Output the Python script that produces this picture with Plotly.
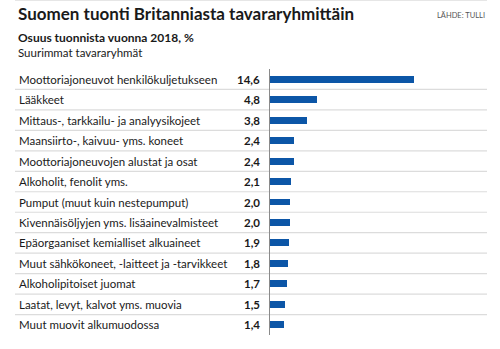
import plotly.graph_objects as go

# Suomen tuonti Britanniasta, osuus tuonnista 2018 (%)
categories = [
    "Moottoriajoneuvot henkilökuljetukseen",
    "Lääkkeet",
    "Mittaus-, tarkkailu- ja analyysikojeet",
    "Maansiirto-, kaivuu- yms. koneet",
    "Moottoriajoneuvojen alustat ja osat",
    "Alkoholit, fenolit yms.",
    "Pumput (muut kuin nestepumput)",
    "Kivennäisöljyjen yms. lisäainevalmisteet",
    "Epäorgaaniset kemialliset alkuaineet",
    "Muut sähkökoneet, -laitteet ja -tarvikkeet",
    "Alkoholipitoiset juomat",
    "Laatat, levyt, kalvot yms. muovia",
    "Muut muovit alkumuodossa",
]
values = [14.6, 4.8, 3.8, 2.4, 2.4, 2.1, 2.0, 2.0, 1.9, 1.8, 1.7, 1.5, 1.4]

title_text = "Suomen tuonti Britanniasta tavararyhmittäin"
source_text = "LÄHDE: TULLI"
subtitle_bold = "Osuus tuonnista vuonna 2018, %"
subtitle_text = "Suurimmat tavararyhmät"

W, H = 500, 349
ML, MR, MT, MB = 270, 13, 69, 14
PW, PH = W - ML - MR, H - MT - MB

FONT = "Lato"
TEXT = "#1a1a1a"
BAR = "#0c56a7"


def px_x(px):
    return (px - ML) / PW


def px_y(py):
    return 1 - (py - MT) / PH


fig = go.Figure(
    go.Bar(
        x=values,
        y=categories,
        orientation="h",
        marker=dict(color=BAR, line=dict(width=0)),
        width=0.34,
        hoverinfo="skip",
    )
)

annotations = []
for i, (c, v) in enumerate(zip(categories, values)):
    annotations.append(dict(
        x=px_x(17), xref="paper", y=c, yref="y", text=c,
        xanchor="left", yanchor="middle", showarrow=False,
        font=dict(family=FONT, size=11.5, color=TEXT),
    ))
    annotations.append(dict(
        x=px_x(262), xref="paper", y=c, yref="y",
        text="<b>" + f"{v:.1f}".replace(".", ",") + "</b>",
        xanchor="right", yanchor="middle", showarrow=False,
        font=dict(family=FONT, size=11.5, color=TEXT),
    ))

annotations += [
    dict(x=px_x(16), xref="paper", y=px_y(14), yref="paper",
         text="<b>" + title_text + "</b>", xanchor="left", yanchor="middle",
         showarrow=False, font=dict(family=FONT, size=17, color=TEXT)),
    dict(x=px_x(487), xref="paper", y=px_y(15), yref="paper",
         text=source_text, xanchor="right", yanchor="middle",
         showarrow=False, font=dict(family=FONT, size=7.5, color="#555")),
    dict(x=px_x(16), xref="paper", y=px_y(38), yref="paper",
         text="<b>" + subtitle_bold + "</b>", xanchor="left", yanchor="middle",
         showarrow=False, font=dict(family=FONT, size=12, color=TEXT)),
    dict(x=px_x(16), xref="paper", y=px_y(52), yref="paper",
         text=subtitle_text, xanchor="left", yanchor="middle",
         showarrow=False, font=dict(family=FONT, size=11.5, color=TEXT)),
]

# row separators and top rule
shapes = [
    dict(type="line", xref="paper", yref="y",
         x0=px_x(15), x1=1, y0=i + 0.5, y1=i + 0.5,
         line=dict(color="#dcdcdc", width=1.2), layer="below")
    for i in range(len(categories) - 1)
]
shapes.append(dict(type="line", xref="paper", yref="paper",
                   x0=px_x(15), x1=1, y0=px_y(0.5), y1=px_y(0.5),
                   line=dict(color="#e6e6e6", width=1)))

fig.update_layout(
    width=W, height=H,
    margin=dict(l=ML, r=MR, t=MT, b=MB),
    paper_bgcolor="white", plot_bgcolor="white",
    showlegend=False,
    bargap=0,
    xaxis=dict(range=[0, 22.0], visible=False, fixedrange=True),
    yaxis=dict(autorange="reversed", showticklabels=False, ticks="",
               showgrid=False, zeroline=False,
               showline=True, linecolor="#8a8a8a", linewidth=1,
               fixedrange=True),
    annotations=annotations,
    shapes=shapes,
)

fig.write_html("out.html")
